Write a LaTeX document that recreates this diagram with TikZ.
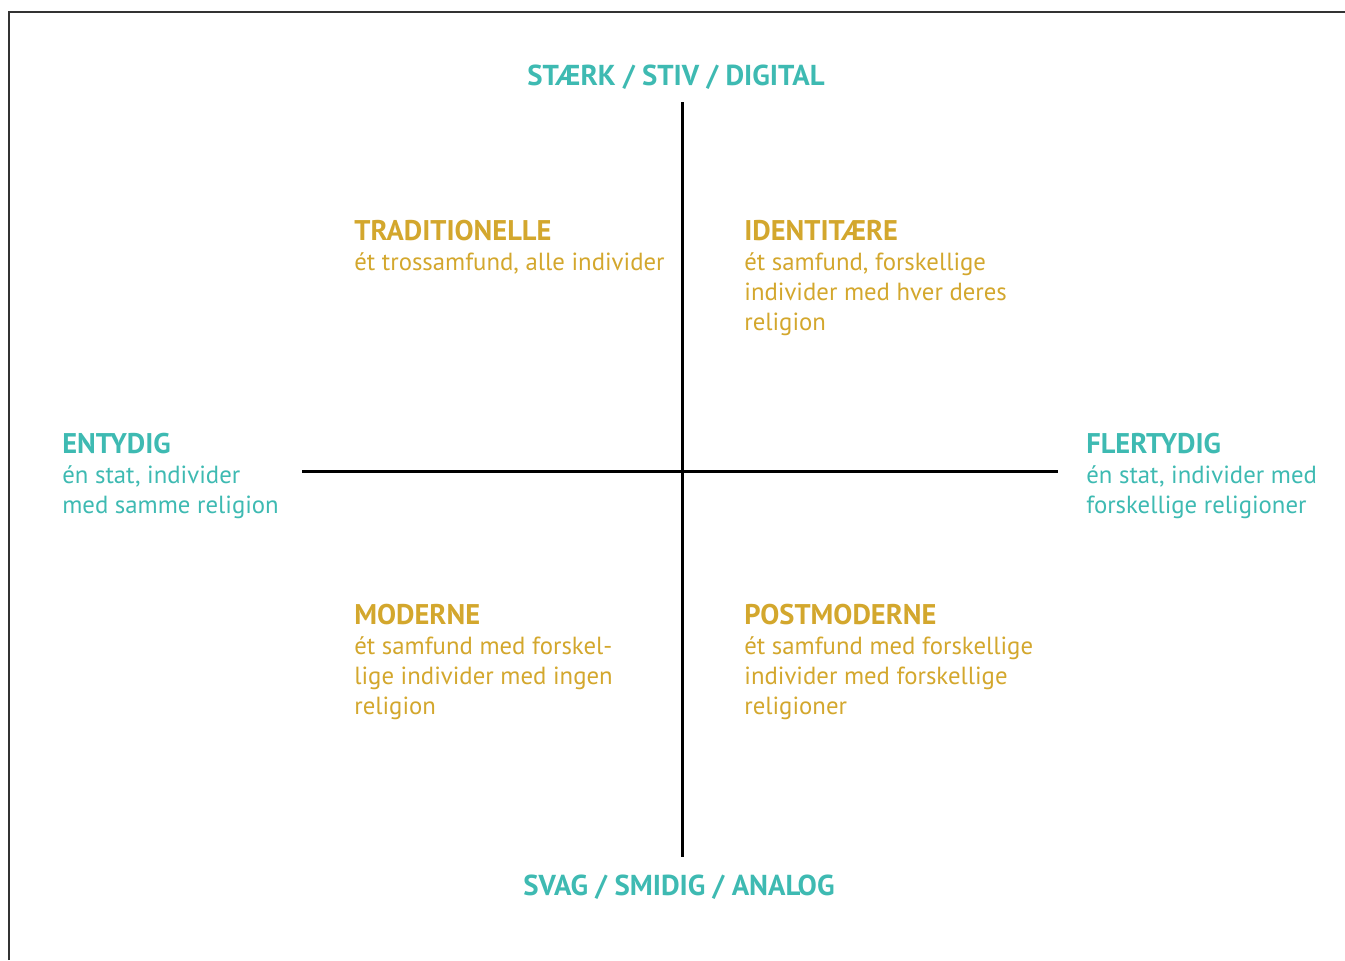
\documentclass[tikz,border=0pt]{standalone}
\usepackage{fontspec}
\setmainfont{PT Sans}
\usepackage{tikz}
\definecolor{akse}{RGB}{62,186,178}
\definecolor{felt}{RGB}{211,167,45}
\newcommand{\overskrift}[1]{{\fontsize{16.2}{17.07}\selectfont\bfseries #1}}
\tikzstyle{txt}=[inner sep=0pt, anchor=north west, align=left, font=\fontsize{14.1}{17.07}\selectfont]
\tikzstyle{aksetxt}=[txt, text=akse]
\tikzstyle{felttxt}=[txt, text=felt]
\tikzstyle{polnavn}=[inner sep=0pt, text=akse, font=\fontsize{16.4}{17.07}\selectfont\bfseries]

\begin{document}
\begin{tikzpicture}[x=0.02cm, y=-0.02cm]
        \useasboundingbox (0,0) rectangle (1345,960);
        \draw[line width=1.2pt, black!80] (9,960) -- (9,12) -- (1345,12);
        \coordinate (top) at (682,102);
        \coordinate (bund) at (682,857);
        \coordinate (venstre) at (302,471);
        \coordinate (hoejre) at (1058,471);
        \draw[line width=1.7pt] (top) -- (bund);
        \draw[line width=1.7pt] (venstre) -- (hoejre);
        \node[polnavn] (staerk) at (676,77) {STÆRK / STIV / DIGITAL};
        \node[polnavn] (svag) at (679,887) {SVAG / SMIDIG / ANALOG};
        \node[aksetxt] (entydig) at (62,433) {\overskrift{ENTYDIG}\\én stat, individer\\med samme religion};
        \node[aksetxt] (flertydig) at (1086,433) {\overskrift{FLERTYDIG}\\én stat, individer med\\forskellige religioner};
        \node[felttxt] (trad) at (354,220) {\overskrift{TRADITIONELLE}\\ét trossamfund, alle individer};
        \node[felttxt] (ident) at (744,220) {\overskrift{IDENTITÆRE}\\ét samfund, forskellige\\individer med hver deres\\religion};
        \node[felttxt] (mod) at (354,604) {\overskrift{MODERNE}\\ét samfund med forskel-\\lige individer med ingen\\religion};
        \node[felttxt] (postmod) at (744,604) {\overskrift{POSTMODERNE}\\ét samfund med forskellige\\individer med forskellige\\religioner};
    \end{tikzpicture}
\end{document}
